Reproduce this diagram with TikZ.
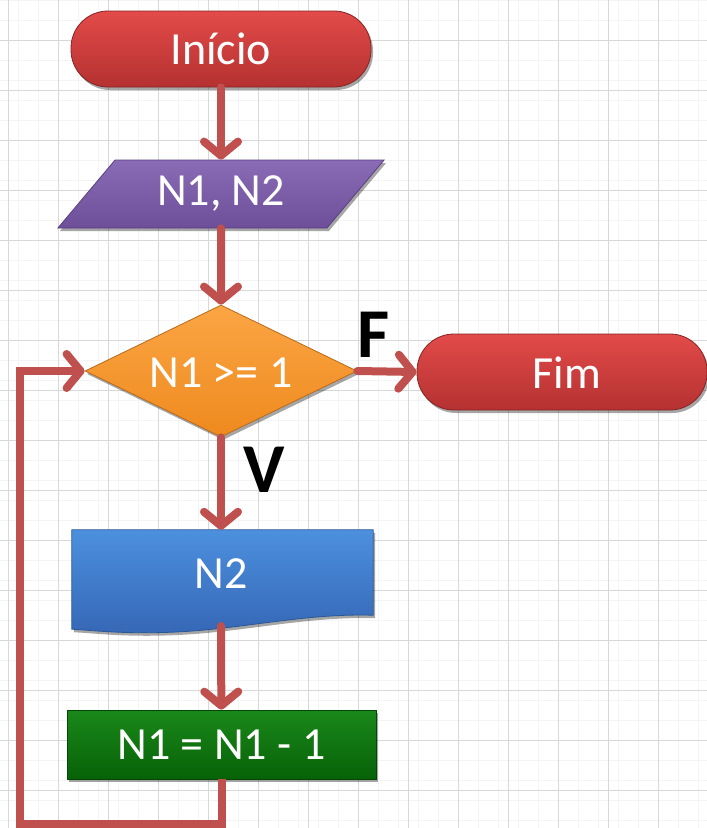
\documentclass[tikz,border=0pt]{standalone}
\usepackage{fontspec}
\setmainfont{Carlito}
\usetikzlibrary{arrows.meta,shapes.geometric,shadows,calc}
\definecolor{flowred}{HTML}{C0504D}
\definecolor{redT}{HTML}{E24B49}
\definecolor{redB}{HTML}{B53131}
\definecolor{redD}{HTML}{862424}
\definecolor{purT}{HTML}{8A6BB6}
\definecolor{purB}{HTML}{6D4E99}
\definecolor{purD}{HTML}{5A3F80}
\definecolor{orT}{HTML}{FBA544}
\definecolor{orB}{HTML}{EE8A1E}
\definecolor{orD}{HTML}{B86A1C}
\definecolor{bluT}{HTML}{4C90DE}
\definecolor{bluB}{HTML}{3567B6}
\definecolor{bluD}{HTML}{2A5796}
\definecolor{grnT}{HTML}{1A881A}
\definecolor{grnB}{HTML}{076207}
\definecolor{grnD}{HTML}{054505}
\definecolor{gridmaj}{HTML}{D8D8D8}
\definecolor{gridmin}{HTML}{F4F4F4}
\tikzset{
  boxtext/.style={text=white, font=\fontsize{46}{50}\selectfont, inner sep=0pt},
  shade3d/.style={drop shadow={shadow xshift=2pt, shadow yshift=-3pt, opacity=0.35, fill=black}},
  term/.style={boxtext, rectangle, rounded corners=37pt, minimum width=300pt, minimum height=76pt,
    top color=redT, bottom color=redB, draw=redD, line width=0.8pt, shade3d},
  iobox/.style={boxtext, trapezium, trapezium left angle=46, trapezium right angle=134,
    trapezium stretches=true, minimum width=327pt, minimum height=68pt,
    top color=purT, bottom color=purB, draw=purD, line width=0.8pt, shade3d},
  decbox/.style={boxtext, diamond, aspect=2.06, minimum width=272pt, minimum height=132pt,
    top color=orT, bottom color=orB, draw=orD, line width=0.8pt, shade3d},
  procbox/.style={boxtext, rectangle, minimum width=309pt, minimum height=69pt,
    top color=grnT, bottom color=grnB, draw=grnD, line width=0.8pt, shade3d},
  docbox/.style={boxtext, rectangle, minimum width=301pt, minimum height=85pt},
  flow/.style={draw=flowred, line width=8pt, line cap=round,
    -{Straight Barb[length=14pt, width=34pt, line cap=round, line join=round]}},
  plainflow/.style={draw=flowred, line width=8pt, line join=miter},
  lab/.style={font=\fontsize{70}{72}\selectfont\bfseries, text=black, inner sep=0pt}
}
\begin{document}
\begin{tikzpicture}[x=1pt,y=-1pt]
\useasboundingbox (0,0) rectangle (707,828);
\fill[white] (0,0) rectangle (707,828);
% background grid
\foreach \x in {-2,18,...,708} \draw[gridmin, line width=0.6pt] (\x,0) -- (\x,828);
\foreach \y in {0,20,...,840} \draw[gridmin, line width=0.6pt] (0,\y) -- (707,\y);
\foreach \x in {8,58,...,708} \draw[gridmaj, line width=1pt] (\x,0) -- (\x,828);
\foreach \y in {40,90,...,840} \draw[gridmaj, line width=1pt] (0,\y) -- (707,\y);

% nodes
\node[term] (ini) at (221,49) {Início};
\node[iobox] (par) at (221,194) {N1, N2};
\node[decbox] (dec) at (221,371) {};
\node[boxtext] (dect) at (221,373) {N1 >= 1};
\node[term, minimum width=290pt] (fim) at (562,372) {};
\node[boxtext] (fimt) at (567,373) {Fim};

% document shape
\node[docbox] (doc) at (222.5,572.5) {};
\path[top color=bluT, bottom color=bluB, draw=bluD, line width=0.8pt, shade3d]
  (doc.north west) -- (doc.north east) -- (doc.south east)
  .. controls ($(doc.south east)+(-70,-2)$) and ($(doc.south east)+(-130,14)$) .. ($(doc.south west)+(100,17)$)
  .. controls ($(doc.south west)+(50,19)$) and ($(doc.south west)+(20,15)$) .. ($(doc.south west)+(0,14)$)
  -- cycle;
\node[boxtext] (doct) at (221,574) {N2};
\coordinate (docb) at (221,626);

\node[procbox] (calc) at (221.5,744.5) {N1 = N1 - 1};

% labels
\node[lab] (lf) at (374,335) {F};
\node[lab] (lv) at (264,470) {V};

% connectors
\draw[flow] (ini) -- (par);
\draw[flow] (par) -- (dec);
\draw[flow] (dec) -- (dec.south |- doc.north);
\draw[flow] (dec.east) -- (fim.west);
\draw[flow] (docb) -- (calc);
\coordinate (lb) at (20,824);
\draw[plainflow] (calc.south) |- (lb) |- ($(dec.west)+(-30,0)$);
\draw[flow] ($(dec.west)+(-34,0)$) -- (dec.west);
\end{tikzpicture}
\end{document}
